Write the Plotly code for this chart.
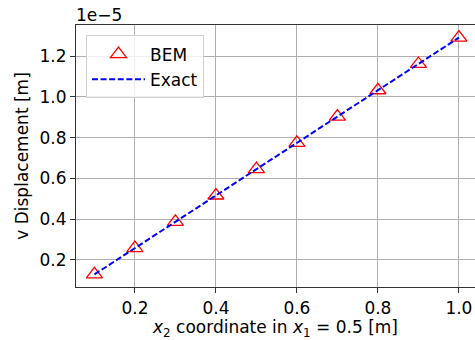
import plotly.graph_objects as go

x_vals = [0.1, 0.2, 0.3, 0.4, 0.5, 0.6, 0.7, 0.8, 0.9, 1.0]
bem_vals = [0.129, 0.258, 0.387, 0.516, 0.645, 0.774, 0.903, 1.032, 1.161, 1.290]
exact_vals = [0.129, 0.258, 0.387, 0.516, 0.645, 0.774, 0.903, 1.032, 1.161, 1.290]
x_ticks = [0.2, 0.4, 0.6, 0.8, 1.0]
y_ticks = [0.2, 0.4, 0.6, 0.8, 1.0, 1.2]

FONT = "DejaVu Sans"

fig = go.Figure()
fig.add_trace(go.Scatter(
    x=x_vals, y=bem_vals, mode="markers", name="BEM",
    marker=dict(symbol="triangle-up-open", size=14, color="red", line=dict(width=1.3, color="red")),
))
fig.add_trace(go.Scatter(
    x=x_vals, y=exact_vals, mode="lines", name="Exact",
    line=dict(color="blue", width=2, dash="6px,2.6px"),
))

axis_common = dict(
    showgrid=True, gridcolor="#b0b0b0", gridwidth=1,
    showline=True, linecolor="#333333", linewidth=1.2, mirror=True,
    ticks="outside", ticklen=5, tickwidth=1.2, tickcolor="#333333",
    zeroline=False,
    tickfont=dict(family=FONT, size=17, color="black"),
)

fig.update_layout(
    width=475, height=340,
    margin=dict(l=76, r=0, t=25, b=53),
    paper_bgcolor="white", plot_bgcolor="white",
    font=dict(family=FONT, size=17, color="black"),
    showlegend=True,
    legend=dict(
        x=0.025, y=0.96, xanchor="left", yanchor="top",
        bgcolor="rgba(255,255,255,0.8)", bordercolor="#d0d0d0", borderwidth=1,
        font=dict(family=FONT, size=17, color="black"),
        itemwidth=53, tracegroupgap=0,
    ),
    xaxis=dict(
        range=[0.0545, 1.0397],
        tickvals=x_ticks, ticktext=["0.2", "0.4", "0.6", "0.8", "1.0"],
        title=dict(text="<i>x</i><sub>2</sub> coordinate in <i>x</i><sub>1</sub> = 0.5 [m]",
                   font=dict(family=FONT, size=17), standoff=4),
        **axis_common,
    ),
    yaxis=dict(
        range=[0.0673, 1.352],
        tickvals=y_ticks, ticktext=["0.2", "0.4", "0.6", "0.8", "1.0", "1.2"],
        title=dict(text="v Displacement [m]", font=dict(family=FONT, size=17), standoff=6),
        **axis_common,
    ),
)

fig.add_annotation(
    text="1e\u22125", xref="paper", yref="paper", x=0, y=1, xanchor="left", yanchor="bottom",
    showarrow=False, font=dict(family=FONT, size=17, color="black"), xshift=-2, yshift=-2,
)

fig.write_html("out.html")
